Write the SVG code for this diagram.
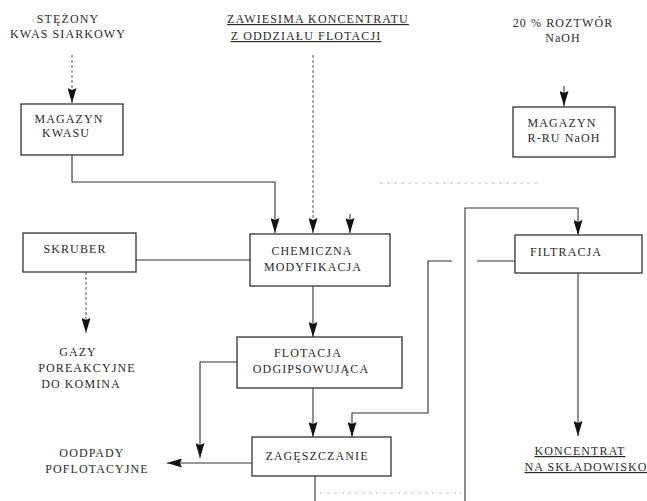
<svg xmlns="http://www.w3.org/2000/svg" width="647" height="501" viewBox="0 0 647 501">
<style>
text{font-family:"Liberation Serif","Times New Roman",serif;font-size:12px;fill:#2a2a2a;letter-spacing:1.1px;text-anchor:middle}
.box{fill:#fff;stroke:#333;stroke-width:1.3}
.c{fill:none;stroke:#333;stroke-width:1.1}
.d{fill:none;stroke:#555;stroke-width:1;stroke-dasharray:3 2}
.f{fill:none;stroke:#c8c8c8;stroke-width:1;stroke-dasharray:3 4}
.u{text-decoration:underline}
</style>
<defs>
<marker id="ar" markerUnits="userSpaceOnUse" markerWidth="15" markerHeight="9" viewBox="0 0 15 9" refX="15" refY="4.5" orient="auto">
<path d="M0,0 L15,4.5 L0,9 L2,4.5 Z" fill="#111"/>
</marker>
</defs>

<g id="labels">
<text x="68" y="23">STĘŻONY</text>
<text x="68" y="38">KWAS SIARKOWY</text>
<text x="318" y="23" class="u">ZAWIESIMA KONCENTRATU</text>
<text x="306" y="40" class="u">Z ODDZIAŁU FLOTACJI</text>
<text x="563" y="27">20 % ROZTWÓR</text>
<text x="563" y="42">NaOH</text>
<text x="78" y="356">GAZY</text>
<text x="87" y="372">POREAKCYJNE</text>
<text x="81" y="388">DO KOMINA</text>
<text x="92" y="457">OODPADY</text>
<text x="97" y="473">POFLOTACYJNE</text>
<text x="580" y="455" class="u">KONCENTRAT</text>
<text x="586" y="471" class="u">NA SKŁADOWISKO</text>
</g>

<g id="connectors">
<path class="d" d="M72,55 V103" marker-end="url(#ar)"/>
<path class="c" d="M72,155 V182 H275 V233" marker-end="url(#ar)"/>
<path class="d" d="M313,55 V233" marker-end="url(#ar)"/>
<path class="f" d="M537,183 H377"/>
<path class="c" d="M350,214 V233" marker-end="url(#ar)"/>
<path class="c" d="M564,86 V106" marker-end="url(#ar)"/>
<path class="c" d="M136,260 H250"/>
<path class="d" d="M86,272 V333" marker-end="url(#ar)"/>
<path class="c" d="M313,286 V337" marker-end="url(#ar)"/>
<path class="c" d="M237,362 H200 V458" marker-end="url(#ar)"/>
<path class="c" d="M313,388 V437" marker-end="url(#ar)"/>
<path class="c" d="M252,463 H167" marker-end="url(#ar)"/>
<path class="c" d="M515,261 H477"/>
<path class="c" d="M452,261 H428 V413 H352 V437" marker-end="url(#ar)"/>
<path class="c" d="M315,476 V501"/>
<path class="f" d="M320,493 H462"/>
<path class="c" d="M465,501 V208 H578 V235" marker-end="url(#ar)"/>
<path class="c" d="M578,273 V436" marker-end="url(#ar)"/>
</g>

<g id="magazyn-kwasu">
<rect class="box" x="21" y="104" width="102" height="51"/>
<text x="69" y="123">MAGAZYN</text>
<text x="66" y="137">KWASU</text>
</g>
<g id="magazyn-naoh">
<rect class="box" x="513" y="107" width="102" height="50"/>
<text x="562" y="127">MAGAZYN</text>
<text x="564" y="142">R-RU NaOH</text>
</g>
<g id="skruber">
<rect class="box" x="23" y="233" width="113" height="39"/>
<text x="75" y="253">SKRUBER</text>
</g>
<g id="chemiczna-modyfikacja">
<rect class="box" x="250" y="234" width="140" height="52"/>
<text x="312" y="255">CHEMICZNA</text>
<text x="313" y="271">MODYFIKACJA</text>
</g>
<g id="filtracja">
<rect class="box" x="515" y="235" width="127" height="38"/>
<text x="566" y="256">FILTRACJA</text>
</g>
<g id="flotacja">
<rect class="box" x="237" y="337" width="165" height="51"/>
<text x="308" y="357">FLOTACJA</text>
<text x="311" y="373">ODGIPSOWUJĄCA</text>
</g>
<g id="zageszczanie">
<rect class="box" x="252" y="437" width="139" height="39"/>
<text x="317" y="460">ZAGĘSZCZANIE</text>
</g>
</svg>
